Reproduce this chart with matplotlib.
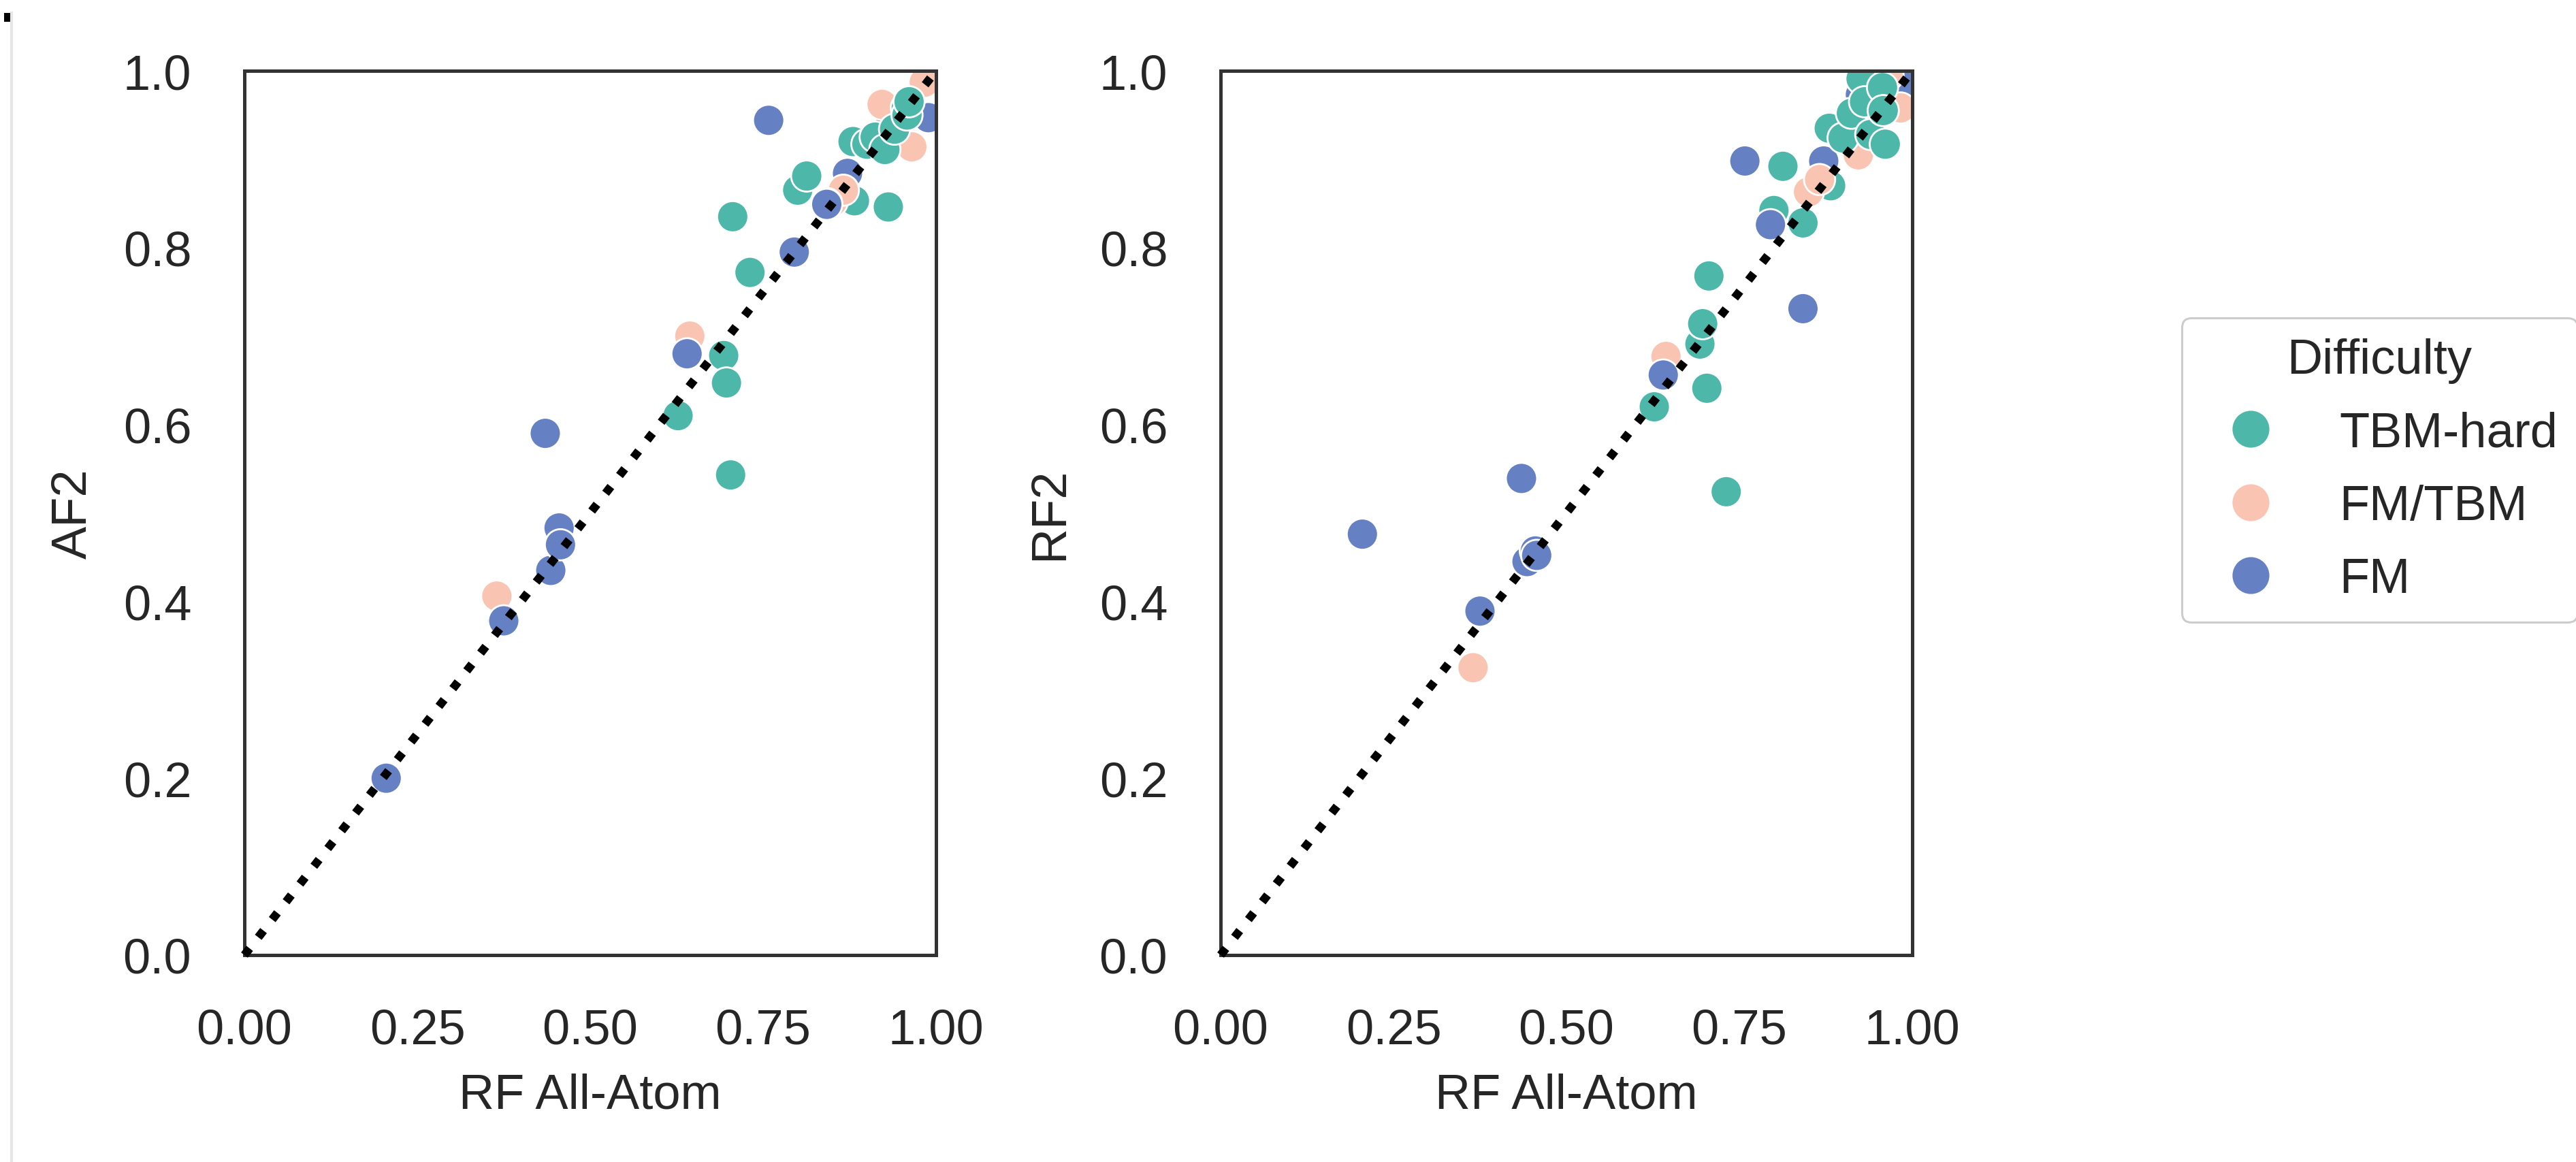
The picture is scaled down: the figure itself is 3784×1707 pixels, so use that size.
import matplotlib
matplotlib.use("Agg")
import matplotlib.pyplot as plt
from matplotlib.lines import Line2D
from matplotlib.patches import Rectangle

# ---------------- data (one entry per target, in drawing order) ----------------
difficulty = (["FM", "FM", "FM", "TBM-hard"]
              + ["FM/TBM"] * 7
              + ["TBM-hard"] * 18
              + ["FM"] * 10)
rf_allatom = [0.925, 0.989, 0.872, 0.882,
              0.365, 0.644, 0.850, 0.866, 0.922, 0.965, 0.983,
              0.627, 0.693, 0.697, 0.703, 0.706, 0.731, 0.800, 0.813, 0.842,
              0.880, 0.900, 0.912, 0.926, 0.931, 0.940, 0.957, 0.958, 0.961,
              0.205, 0.375, 0.435, 0.443, 0.455, 0.457, 0.640, 0.758, 0.795, 0.842]
af2 = [0.930, 0.947, 0.884, 0.853,
       0.406, 0.700, 0.852, 0.865, 0.962, 0.914, 0.987,
       0.610, 0.678, 0.647, 0.543, 0.835, 0.772, 0.865, 0.881, 0.850,
       0.920, 0.917, 0.925, 0.911, 0.846, 0.934, 0.958, 0.950, 0.965,
       0.200, 0.378, 0.590, 0.435, 0.483, 0.464, 0.680, 0.944, 0.795, 0.849]
rf2 = [0.973, 0.987, 0.898, 0.870,
       0.325, 0.677, 0.863, 0.877, 0.905, 0.995, 0.958,
       0.620, 0.691, 0.714, 0.641, 0.768, 0.524, 0.842, 0.892, 0.828,
       0.935, 0.924, 0.952, 0.991, 0.965, 0.928, 0.981, 0.955, 0.917,
       0.476, 0.389, 0.539, 0.445, 0.457, 0.452, 0.656, 0.898, 0.826, 0.731]

hue_order = ["TBM-hard", "FM/TBM", "FM"]
x_ticks = [0.0, 0.25, 0.5, 0.75, 1.0]
x_ticklabels = ["0.00", "0.25", "0.50", "0.75", "1.00"]
y_ticks = [0.0, 0.2, 0.4, 0.6, 0.8, 1.0]
y_ticklabels = ["0.0", "0.2", "0.4", "0.6", "0.8", "1.0"]
x_label = "RF All-Atom"
y_labels = ["AF2", "RF2"]
legend_title = "Difficulty"

# ---------------- style ----------------
palette = {"TBM-hard": "#4db8aa", "FM/TBM": "#f9c5b2", "FM": "#6680c4"}
plt.rcParams["font.family"] = ["Liberation Sans", "DejaVu Sans"]
FS = 26
TXT = "#262626"

W, H = 3784, 1708
DPI = 200
fig = plt.figure(figsize=(W / DPI, H / DPI), dpi=DPI, facecolor="white")

def px_axes(x0, x1, ytop, ybot):
    return [x0 / W, 1 - ybot / H, (x1 - x0) / W, (ybot - ytop) / H]

ax1 = fig.add_axes(px_axes(359, 1375, 105, 1404))
ax2 = fig.add_axes(px_axes(1793, 2809, 105, 1404))

colors = [palette[d] for d in difficulty]

for ax, yvals, ylab in [(ax1, af2, y_labels[0]), (ax2, rf2, y_labels[1])]:
    ax.scatter(rf_allatom, yvals, s=272, c=colors, edgecolors="white",
               linewidths=1.0, zorder=2)
    ax.plot([0, 1], [0, 1], linestyle=":", color="black", linewidth=4.5,
            zorder=3, clip_on=False)
    ax.set_xlim(0, 1)
    ax.set_ylim(0, 1)
    ax.set_xticks(x_ticks)
    ax.set_xticklabels(x_ticklabels)
    ax.set_yticks(y_ticks)
    ax.set_yticklabels(y_ticklabels)
    ax.tick_params(length=0, pad=28, labelsize=FS, colors=TXT)
    ax.set_xlabel(x_label, fontsize=FS, color=TXT, labelpad=10)
    ax.set_ylabel(ylab, fontsize=FS, color=TXT, labelpad=14)
    for sp in ax.spines.values():
        sp.set_color("#333333")
        sp.set_linewidth(1.8)
    ax.set_facecolor("white")

handles = [Line2D([0], [0], marker="o", linestyle="none", markersize=20.5,
                  markerfacecolor=palette[h], markeredgecolor="white",
                  markeredgewidth=1.0, label=h) for h in hue_order]
leg = fig.legend(handles=handles, title=legend_title, loc="upper left",
                 bbox_to_anchor=(3205 / W, 1 - 468 / H), borderaxespad=0,
                 fontsize=FS, title_fontsize=FS, frameon=True, fancybox=True,
                 framealpha=1, edgecolor="#cccccc", labelspacing=0.56)
leg.get_frame().set_linewidth(1.1)
for t in leg.get_texts():
    t.set_color(TXT)
leg.get_title().set_color(TXT)

# screenshot artefacts at the left edge
fig.add_artist(Rectangle((6 / W, 1 - 33 / H), 10 / W, 13 / H,
                         transform=fig.transFigure, color="black", lw=0))
fig.add_artist(Line2D([17 / W, 17 / W], [0, 1 - 20 / H],
                      transform=fig.transFigure, color="#e6e6e6", lw=1.5))

fig.savefig("out.png", dpi=DPI, facecolor="white")
